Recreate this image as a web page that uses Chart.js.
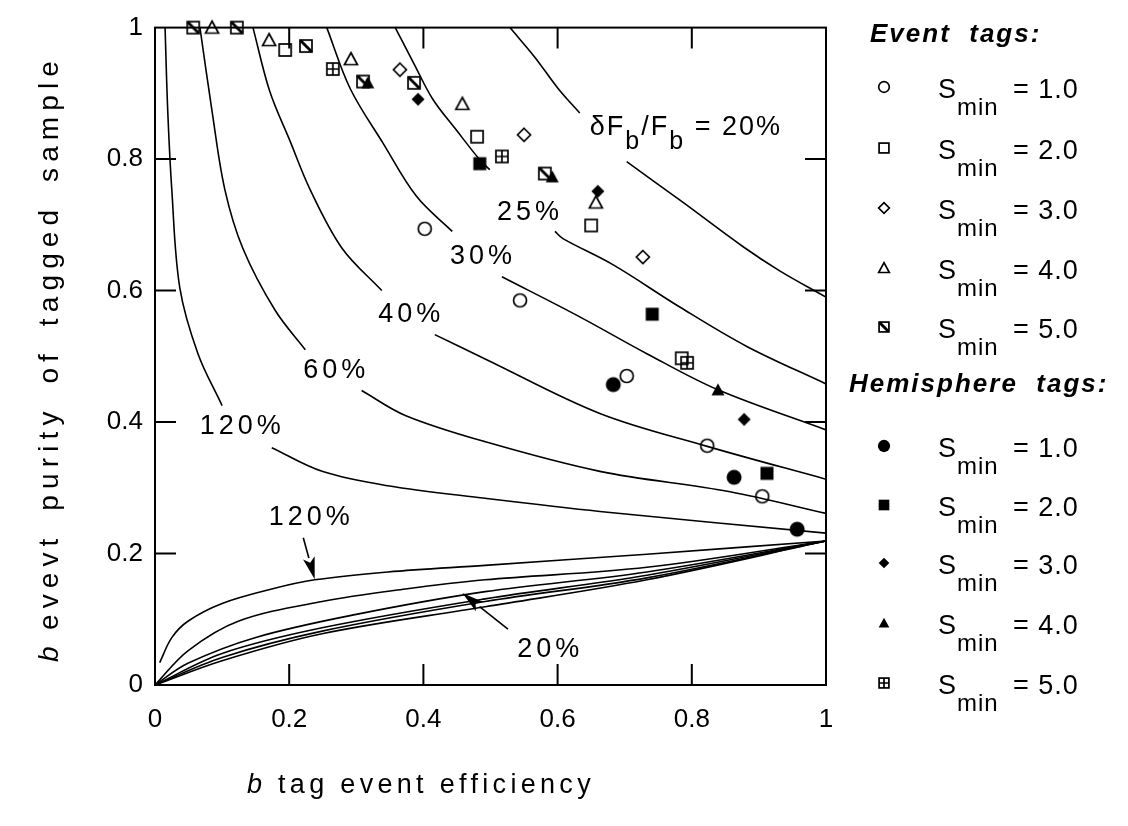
<!DOCTYPE html>
<html>
<head>
<meta charset="utf-8">
<script src="https://cdn.jsdelivr.net/npm/chart.js@4.4.0/dist/chart.umd.min.js"></script>
<style>
  body { margin: 0; background: #fff; }
  canvas { display: block; }
</style>
</head>
<body>
<canvas id="myChart" width="1128" height="826"></canvas>
<script>
const FONT = '"Liberation Sans", Arial, Helvetica, sans-serif';

// axis ticks
const tickValues = [0, 0.2, 0.4, 0.6, 0.8, 1];

// Event tags (open symbols), S_min = 1..5
const evS1X = [0.402, 0.544, 0.703, 0.823, 0.905];
const evS1Y = [0.694, 0.585, 0.470, 0.364, 0.287];
const evS2X = [0.194, 0.480, 0.650, 0.785];
const evS2Y = [0.966, 0.834, 0.699, 0.497];
const evS3X = [0.365, 0.550, 0.727];
const evS3Y = [0.936, 0.837, 0.651];
const evS4X = [0.085, 0.170, 0.292, 0.458, 0.657];
const evS4Y = [1.0, 0.981, 0.952, 0.884, 0.734];
const evS5X = [0.057, 0.122, 0.225, 0.310, 0.386, 0.581];
const evS5Y = [1.0, 1.0, 0.972, 0.918, 0.916, 0.778];

// Hemisphere tags (filled symbols), S_min = 1..5
const hmS1X = [0.683, 0.863, 0.957];
const hmS1Y = [0.457, 0.316, 0.237];
const hmS2X = [0.484, 0.741, 0.912];
const hmS2Y = [0.793, 0.564, 0.322];
const hmS3X = [0.392, 0.660, 0.878];
const hmS3Y = [0.891, 0.751, 0.404];
const hmS4X = [0.317, 0.592, 0.839];
const hmS4Y = [0.916, 0.773, 0.449];
const hmS5X = [0.265, 0.517, 0.793];
const hmS5Y = [0.937, 0.804, 0.490];

const sminLabels = ['1.0', '2.0', '3.0', '4.0', '5.0'];

// contours of dF_b/F_b (upper family), null = gap for the label
const up20X = [0.529, 0.566, 0.601, 0.633, null, 0.703, 0.787, 0.876, 0.931, 1.0];
const up20Y = [1.0, 0.955, 0.907, 0.870, null, 0.796, 0.734, 0.667, 0.630, 0.590];
const up25X = [0.358, 0.386, 0.414, 0.450, 0.484, 0.499, null, 0.596, 0.608, 0.683, 0.782, 0.882, 1.0];
const up25Y = [1.0, 0.945, 0.891, 0.843, 0.799, 0.784, null, 0.690, 0.679, 0.639, 0.575, 0.515, 0.458];
const up30X = [0.256, 0.291, 0.340, 0.390, 0.443, null, 0.517, 0.633, 0.733, 0.839, 1.0];
const up30Y = [1.0, 0.907, 0.824, 0.743, 0.690, null, 0.621, 0.560, 0.504, 0.449, 0.388];
const up40X = [0.146, 0.171, 0.201, 0.231, 0.279, 0.338, null, 0.417, 0.492, 0.663, 0.823, 1.0];
const up40Y = [1.0, 0.903, 0.828, 0.754, 0.664, 0.600, null, 0.533, 0.496, 0.413, 0.363, 0.313];
const up60X = [0.067, 0.085, 0.104, 0.131, 0.179, 0.224, null, 0.308, 0.373, 0.492, 0.663, 0.857, 1.0];
const up60Y = [1.0, 0.873, 0.754, 0.664, 0.570, 0.510, null, 0.448, 0.410, 0.370, 0.325, 0.294, 0.261];
const up120X = [0.015, 0.019, 0.025, 0.037, 0.064, 0.100, null, 0.174, 0.249, 0.347, 0.492, 0.663, 1.0];
const up120Y = [1.0, 0.873, 0.754, 0.604, 0.504, 0.425, null, 0.361, 0.325, 0.303, 0.284, 0.264, 0.231];

// lower family
const lo120X = [0.007, 0.025, 0.049, 0.100, 0.174, 0.238, 0.347, 0.492, 0.733, 1.0];
const lo120Y = [0.034, 0.072, 0.097, 0.124, 0.146, 0.160, 0.172, 0.182, 0.199, 0.219];
const lo60X = [0.0, 0.049, 0.124, 0.249, 0.373, 0.492, 0.733, 1.0];
const lo60Y = [0.0, 0.052, 0.097, 0.127, 0.146, 0.160, 0.179, 0.219];
const lo40X = [0.0, 0.049, 0.149, 0.298, 0.492, 0.733, 1.0];
const lo40Y = [0.0, 0.033, 0.072, 0.107, 0.142, 0.172, 0.219];
const lo30X = [0.0, 0.100, 0.249, 0.492, 0.733, 1.0];
const lo30Y = [0.0, 0.048, 0.087, 0.131, 0.167, 0.219];
const lo25X = [0.0, 0.100, 0.249, 0.492, 0.733, 1.0];
const lo25Y = [0.0, 0.042, 0.082, 0.127, 0.163, 0.219];
const lo20X = [0.0, 0.100, 0.249, 0.492, 0.733, 1.0];
const lo20Y = [0.0, 0.037, 0.078, 0.119, 0.160, 0.219];

function makeMarker(kind, k) {
    const c = document.createElement('canvas');
    c.width = 20;
    c.height = 20;
    const g = c.getContext('2d');
    g.translate(10, 10);
    g.scale(k, k);
    g.translate(-10, -10);
    g.strokeStyle = '#000';
    g.fillStyle = '#000';
    g.lineWidth = 1.7 / k;
    g.beginPath();
    if (kind === 'circle') {
        g.arc(10, 10, 6.5, 0, 2 * Math.PI);
        g.stroke();
    } else if (kind === 'dot') {
        g.arc(10, 10, 7.5, 0, 2 * Math.PI);
        g.fill();
    } else if (kind === 'square') {
        g.strokeRect(4, 4, 12, 12);
    } else if (kind === 'box') {
        g.fillRect(3.5, 3.5, 13, 13);
    } else if (kind === 'diamond' || kind === 'fdiamond') {
        g.moveTo(10, 3.5); g.lineTo(16.5, 10); g.lineTo(10, 16.5); g.lineTo(3.5, 10); g.closePath();
        if (kind === 'diamond') g.stroke(); else g.fill();
    } else if (kind === 'triangle' || kind === 'ftriangle') {
        g.moveTo(10, 3.5); g.lineTo(16.5, 15.5); g.lineTo(3.5, 15.5); g.closePath();
        if (kind === 'triangle') g.stroke(); else g.fill();
    } else if (kind === 'slash') {
        g.strokeRect(4, 4, 12, 12);
        g.lineWidth = 2.8 / k;
        g.moveTo(4.5, 4.5); g.lineTo(15.5, 15.5);
        g.stroke();
    } else if (kind === 'cross') {
        g.strokeRect(4, 4, 12, 12);
        g.moveTo(10, 4); g.lineTo(10, 16);
        g.moveTo(4, 10); g.lineTo(16, 10);
        g.stroke();
    }
    return c;
}

const evKinds = ['circle', 'square', 'diamond', 'triangle', 'slash'];
const hmKinds = ['dot', 'box', 'fdiamond', 'ftriangle', 'cross'];
const evStyles = evKinds.map((k) => makeMarker(k, 1));
const hmStyles = hmKinds.map((k) => makeMarker(k, 1));
const evKeys = evKinds.map((k) => makeMarker(k, 0.82));
const hmKeys = hmKinds.map((k) => makeMarker(k, 0.82));

function marks(xs, ys, style) {
    return {
        data: xs.map((x, i) => ({ x: x, y: ys[i] })),
        pointStyle: style,
        pointRadius: 7,
        clip: false,
        order: 0
    };
}

function curve(xs, ys) {
    const pts = [];
    for (let i = 0; i < xs.length; i++) {
        pts.push({ x: xs[i] === null ? xs[i - 1] : xs[i], y: ys[i] });
    }
    return {
        data: pts,
        showLine: true,
        borderColor: '#000',
        borderWidth: 1.6,
        pointRadius: 0,
        tension: 0.35,
        spanGaps: false,
        order: 1
    };
}

const datasets = [
    curve(up20X, up20Y), curve(up25X, up25Y), curve(up30X, up30Y),
    curve(up40X, up40Y), curve(up60X, up60Y), curve(up120X, up120Y),
    curve(lo120X, lo120Y), curve(lo60X, lo60Y), curve(lo40X, lo40Y),
    curve(lo30X, lo30Y), curve(lo25X, lo25Y), curve(lo20X, lo20Y),
    marks(evS1X, evS1Y, evStyles[0]), marks(evS2X, evS2Y, evStyles[1]),
    marks(evS3X, evS3Y, evStyles[2]), marks(evS4X, evS4Y, evStyles[3]),
    marks(evS5X, evS5Y, evStyles[4]),
    marks(hmS1X, hmS1Y, hmStyles[0]), marks(hmS2X, hmS2Y, hmStyles[1]),
    marks(hmS3X, hmS3Y, hmStyles[2]), marks(hmS4X, hmS4Y, hmStyles[3]),
    marks(hmS5X, hmS5Y, hmStyles[4])
];

// draw text pieces one after another; dy shifts subscripts down
function drawRuns(ctx, x, y, runs, spacing) {
    ctx.letterSpacing = spacing + 'px';
    ctx.textBaseline = 'alphabetic';
    ctx.textAlign = 'left';
    for (const r of runs) {
        ctx.font = (r.style || '') + ' ' + r.size + 'px ' + FONT;
        ctx.fillText(r.t, x, y + (r.dy || 0));
        x += ctx.measureText(r.t).width;
    }
}

function arrow(ctx, x0, y0, x1, y1) {
    const ang = Math.atan2(y1 - y0, x1 - x0);
    const len = 22, half = 6;
    const bx = x1 - Math.cos(ang) * len, by = y1 - Math.sin(ang) * len;
    ctx.beginPath();
    ctx.moveTo(x0, y0);
    ctx.lineTo(bx, by);
    ctx.lineWidth = 1.6;
    ctx.stroke();
    ctx.beginPath();
    ctx.moveTo(x1, y1);
    ctx.lineTo(bx - Math.sin(ang) * half, by + Math.cos(ang) * half);
    ctx.lineTo(bx + Math.cos(ang) * 5, by + Math.sin(ang) * 5);
    ctx.lineTo(bx + Math.sin(ang) * half, by - Math.cos(ang) * half);
    ctx.closePath();
    ctx.fill();
}

const deco = {
    id: 'deco',
    beforeDraw(chart) {
        const ctx = chart.ctx;
        ctx.save();
        ctx.fillStyle = '#fff';
        ctx.fillRect(0, 0, chart.width, chart.height);
        ctx.restore();
    },
    afterDraw(chart) {
        const { ctx, chartArea: a, scales: { x, y } } = chart;
        ctx.save();
        ctx.strokeStyle = '#000';
        ctx.fillStyle = '#000';

        // frame and inward ticks
        ctx.lineWidth = 2;
        ctx.strokeRect(a.left, a.top, a.right - a.left, a.bottom - a.top);
        ctx.beginPath();
        for (const v of tickValues) {
            if (v === 0 || v === 1) continue;
            const px = x.getPixelForValue(v);
            const py = y.getPixelForValue(v);
            ctx.moveTo(px, a.bottom); ctx.lineTo(px, a.bottom - 21);
            ctx.moveTo(px, a.top); ctx.lineTo(px, a.top + 21);
            ctx.moveTo(a.left, py); ctx.lineTo(a.left + 21, py);
            ctx.moveTo(a.right, py); ctx.lineTo(a.right - 21, py);
        }
        ctx.stroke();

        // contour labels
        ctx.font = '27px ' + FONT;
        ctx.letterSpacing = '4px';
        ctx.textAlign = 'center';
        ctx.textBaseline = 'middle';
        const lab = (t, vx, vy) => ctx.fillText(t, x.getPixelForValue(vx) + 2, y.getPixelForValue(vy));
        lab('25%', 0.556, 0.719);
        lab('30%', 0.486, 0.652);
        lab('40%', 0.379, 0.564);
        lab('60%', 0.267, 0.478);
        lab('120%', 0.127, 0.393);
        lab('120%', 0.230, 0.255);
        lab('20%', 0.586, 0.054);

        drawRuns(ctx, x.getPixelForValue(0.648), y.getPixelForValue(0.837), [
            { t: '\u03B4F', size: 27 },
            { t: 'b', size: 25, dy: 14 },
            { t: '/F', size: 27 },
            { t: 'b', size: 25, dy: 14 },
            { t: ' = 20%', size: 27 }
        ], 2);

        arrow(ctx, x.getPixelForValue(0.221), y.getPixelForValue(0.224),
            x.getPixelForValue(0.238), y.getPixelForValue(0.161));
        arrow(ctx, x.getPixelForValue(0.526), y.getPixelForValue(0.085),
            x.getPixelForValue(0.458), y.getPixelForValue(0.140));

        // axis titles
        ctx.letterSpacing = '0px';
        ctx.font = 'italic 27px ' + FONT;
        ctx.textAlign = 'left';
        ctx.textBaseline = 'alphabetic';
        ctx.fillText('b', 247, 793);
        ctx.font = '27px ' + FONT;
        let t = 'tag event efficiency';
        let w0 = ctx.measureText(t).width;
        ctx.letterSpacing = ((317 - w0) / t.length) + 'px';
        ctx.fillText(t, 278, 793);

        ctx.save();
        ctx.translate(58, 662);
        ctx.rotate(-Math.PI / 2);
        ctx.letterSpacing = '0px';
        ctx.font = 'italic 28px ' + FONT;
        ctx.fillText('b', 0, 0);
        ctx.font = '28px ' + FONT;
        ctx.wordSpacing = '8px';
        t = 'evevt purity of tagged sample';
        w0 = ctx.measureText(t).width;
        ctx.letterSpacing = ((575 - w0) / t.length) + 'px';
        ctx.fillText(t, 32, 0);
        ctx.wordSpacing = '0px';
        ctx.restore();

        // legend
        ctx.letterSpacing = '2px';
        ctx.font = 'bold italic 26px ' + FONT;
        ctx.fillText('Event  tags:', 870, 42);
        ctx.fillText('Hemisphere  tags:', 849, 392);
        const evRows = [87, 148, 208, 268, 327];
        const hmRows = [446, 505, 563, 623, 683];
        const item = (img, row, label) => {
            ctx.drawImage(img, 884 - 10, row - 10);
            drawRuns(ctx, 938, row + 11, [
                { t: 'S', size: 27 },
                { t: 'min', size: 24, dy: 17 },
            ], 1);
            drawRuns(ctx, 1013, row + 11, [{ t: '= ' + label, size: 27 }], 1);
        };
        for (let i = 0; i < 5; i++) {
            item(evKeys[i], evRows[i], sminLabels[i]);
            item(hmKeys[i], hmRows[i], sminLabels[i]);
        }
        ctx.restore();
    }
};

const tickText = (v) => String(Math.round(v * 10) / 10);

const ctx = document.getElementById('myChart').getContext('2d');
const myChart = new Chart(ctx, {
    type: 'scatter',
    data: { datasets: datasets },
    options: {
        responsive: false,
        animation: false,
        events: [],
        layout: { padding: { top: 15, right: 302, left: 0, bottom: 0 } },
        plugins: {
            legend: { display: false },
            tooltip: { enabled: false }
        },
        scales: {
            x: {
                type: 'linear',
                min: 0,
                max: 1,
                ticks: { stepSize: 0.2, color: '#000', padding: 19, maxRotation: 0, callback: tickText, font: { family: FONT, size: 26 } },
                grid: { display: false, drawTicks: false },
                border: { display: false },
                afterFit: (s) => { s.height = 141; }
            },
            y: {
                type: 'linear',
                min: 0,
                max: 1,
                ticks: { stepSize: 0.2, color: '#000', padding: 12, callback: tickText, font: { family: FONT, size: 26 } },
                grid: { display: false, drawTicks: false },
                border: { display: false },
                afterFit: (s) => { s.width = 155; }
            }
        }
    },
    plugins: [deco]
});
</script>
</body>
</html>
